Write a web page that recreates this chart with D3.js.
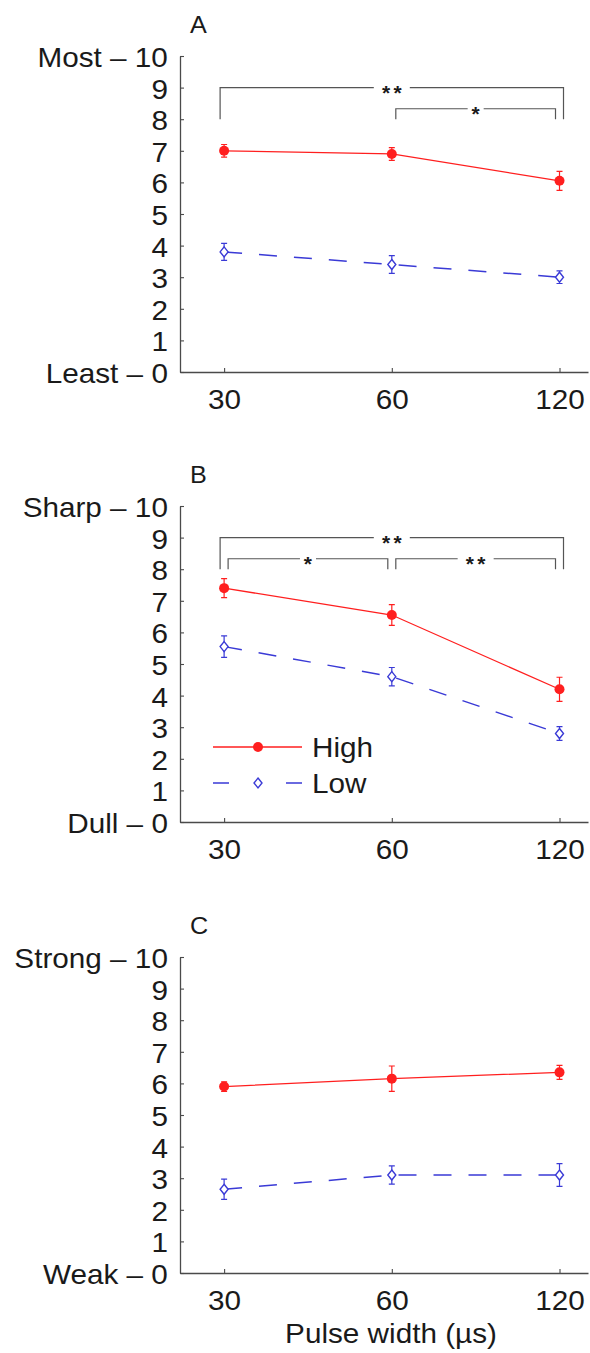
<!DOCTYPE html>
<html>
<head>
<meta charset="utf-8">
<script src="https://cdn.jsdelivr.net/npm/d3@7/dist/d3.min.js"></script>
<style>
  html, body { margin: 0; padding: 0; background: #fff; }
  svg { display: block; }
  text { font-family: "Liberation Sans", Arial, Helvetica, sans-serif; fill: #1a1a1a; }
</style>
</head>
<body>
<svg id="chart" width="590" height="1353"></svg>
<script>
// ---- data -------------------------------------------------------------
const pulseWidths = [30, 60, 120];                 // µs
const panelLetters = ["A", "B", "C"];
const scaleEnds = [["Least", "Most"], ["Dull", "Sharp"], ["Weak", "Strong"]];
const yTickValues = [0, 1, 2, 3, 4, 5, 6, 7, 8, 9, 10];
const seriesNames = ["High", "Low"];

// mean ratings per panel, one value per pulse width
const highMeans = [[7.0, 6.9, 6.05], [7.4, 6.55, 4.2], [5.9, 6.15, 6.35]];
const highErrors = [[0.2, 0.2, 0.3], [0.3, 0.33, 0.38], [0.15, 0.4, 0.22]];
const lowMeans = [[3.8, 3.4, 3.0], [5.55, 4.6, 2.8], [2.65, 3.1, 3.1]];
const lowErrors = [[0.27, 0.28, 0.2], [0.34, 0.29, 0.22], [0.32, 0.29, 0.36]];

// pairwise significance markers per panel
const significance = [
  [{ from: 30, to: 120, level: 0, label: "**" }, { from: 60, to: 120, level: 1, label: "*" }],
  [{ from: 30, to: 120, level: 0, label: "**" }, { from: 30, to: 60, level: 1, label: "*" },
   { from: 60, to: 120, level: 1, label: "**" }],
  []
];

// ---- layout & style ---------------------------------------------------
const svg = d3.select("#chart");
const axisLeftX = 180, axisRightX = 588;
const panelTops = [56, 506, 957];
const plotH = 316;
const stretch = 1.1;           // horizontal text stretch
const labelSize = 27;
const red = "#ff1f1f", blue = "#3a3ad6", axisColor = "#4a4a4a";

const x = d3.scaleLog().base(2).domain([25, 135]).range([axisLeftX, axisRightX]);

const bracketTop = [9, 8.33];  // bracket height by nesting level
const bracketBase = 8;
const bracketInset = [-4, 4];

panelLetters.forEach((letter, p) => {
  const top = panelTops[p];
  const y = d3.scaleLinear().domain([0, 10]).range([top + plotH, top]);
  const g = svg.append("g");

  // panel letter
  g.append("text")
    .attr("transform", `translate(190,${top - 23}) scale(1.05,1)`)
    .attr("font-size", 24)
    .text(letter);

  // y axis
  const yAxis = d3.axisLeft(y)
    .tickValues(yTickValues)
    .tickSize(-4)
    .tickSizeOuter(0)
    .tickPadding(11)
    .tickFormat(v => v === 0 ? `${scaleEnds[p][0]} – 0` : v === 10 ? `${scaleEnds[p][1]} – 10` : `${v}`);
  const ya = g.append("g").attr("transform", `translate(${axisLeftX},0)`).call(yAxis);
  ya.selectAll("text")
    .attr("font-size", labelSize)
    .attr("font-family", null)
    .attr("dy", "0.39em")
    .attr("transform", `scale(${stretch},1)`);

  // x axis
  const xAxis = d3.axisBottom(x)
    .tickValues(pulseWidths)
    .tickSize(-4)
    .tickSizeOuter(0)
    .tickPadding(18)
    .tickFormat(d3.format("d"));
  const xa = g.append("g").attr("transform", `translate(0,${top + plotH})`).call(xAxis);
  xa.selectAll("text")
    .attr("font-size", labelSize)
    .attr("font-family", null)
    .attr("transform", `scale(${stretch},1)`);

  [ya, xa].forEach(a => {
    a.select(".domain").attr("stroke", axisColor).attr("stroke-width", 1.3);
    a.selectAll(".tick line").attr("stroke", axisColor).attr("stroke-width", 1.1);
  });

  // significance brackets
  significance[p].forEach(s => {
    const inset = bracketInset[s.level];
    const x1 = x(s.from) + inset, x2 = x(s.to) - inset;
    const yTop = y(bracketTop[s.level]), yBase = y(bracketBase);
    const cx = (x(s.from) + x(s.to)) / 2;
    const n = s.label.length;
    const gap = 20 * n - 4;
    const bg = g.append("g").attr("fill", "none").attr("stroke", "#555").attr("stroke-width", 1.2);
    bg.append("path").attr("d", d3.line()([[x1, yBase], [x1, yTop], [cx - gap / 2, yTop]]));
    bg.append("path").attr("d", d3.line()([[cx + gap / 2, yTop], [x2, yTop], [x2, yBase]]));
    d3.range(n).forEach(i => {
      g.append("text")
        .attr("x", cx + (i - (n - 1) / 2) * 11.5)
        .attr("y", yTop + 12)
        .attr("text-anchor", "middle")
        .attr("font-size", 21)
        .attr("font-weight", "bold")
        .attr("fill", "#111")
        .text("*");
    });
  });

  // series
  const series = [
    { name: seriesNames[0], means: highMeans[p], errs: highErrors[p], color: red, dash: null },
    { name: seriesNames[1], means: lowMeans[p], errs: lowErrors[p], color: blue, dash: "18,17" }
  ];
  series.forEach(s => {
    const pts = pulseWidths.map((w, i) => ({ w, m: s.means[i], e: s.errs[i] }));
    g.append("path")
      .datum(pts)
      .attr("fill", "none")
      .attr("stroke", s.color)
      .attr("stroke-width", s.dash ? 1.5 : 1.3)
      .attr("stroke-dasharray", s.dash)
      .attr("d", d3.line().x(d => x(d.w)).y(d => y(d.m)));

    const eg = g.append("g").attr("stroke", s.color).attr("stroke-width", 1.2).attr("fill", "none");
    pts.forEach(d => {
      const cx = x(d.w), lo = y(d.m - d.e), hi = y(d.m + d.e);
      eg.append("path").attr("d", `M${cx},${lo}V${hi}M${cx - 3},${lo}H${cx + 3}M${cx - 3},${hi}H${cx + 3}`);
    });

    pts.forEach(d => drawMarker(g, s.name, x(d.w), y(d.m)));
  });

  // legend (middle panel)
  if (p === 1) {
    const lx0 = 213, lx1 = 302, lmid = (lx0 + lx1) / 2 + 0.5;
    const rows = [{ name: seriesNames[0], color: red, dash: null, yy: 747 },
                  { name: seriesNames[1], color: blue, dash: "16,57,16", yy: 783 }];
    rows.forEach(r => {
      g.append("line")
        .attr("x1", lx0).attr("x2", lx1).attr("y1", r.yy).attr("y2", r.yy)
        .attr("stroke", r.color).attr("stroke-width", r.dash ? 1.5 : 1.3)
        .attr("stroke-dasharray", r.dash);
      drawMarker(g, r.name, lmid, r.yy);
      g.append("text")
        .attr("transform", `translate(312,${r.yy + 10}) scale(${stretch},1)`)
        .attr("font-size", labelSize)
        .text(r.name);
    });
  }
});

function drawMarker(g, name, cx, cy) {
  if (name === seriesNames[0]) {
    g.append("circle").attr("cx", cx).attr("cy", cy).attr("r", 5).attr("fill", red);
  } else {
    g.append("path")
      .attr("d", `M${cx},${cy - 5}L${cx + 4},${cy}L${cx},${cy + 5}L${cx - 4},${cy}Z`)
      .attr("fill", "#fff").attr("stroke", blue).attr("stroke-width", 1.4);
  }
}

// shared x-axis title
svg.append("text")
  .attr("transform", `translate(391,1343) scale(${stretch},1)`)
  .attr("text-anchor", "middle")
  .attr("font-size", labelSize)
  .text("Pulse width (µs)");
</script>
</body>
</html>
